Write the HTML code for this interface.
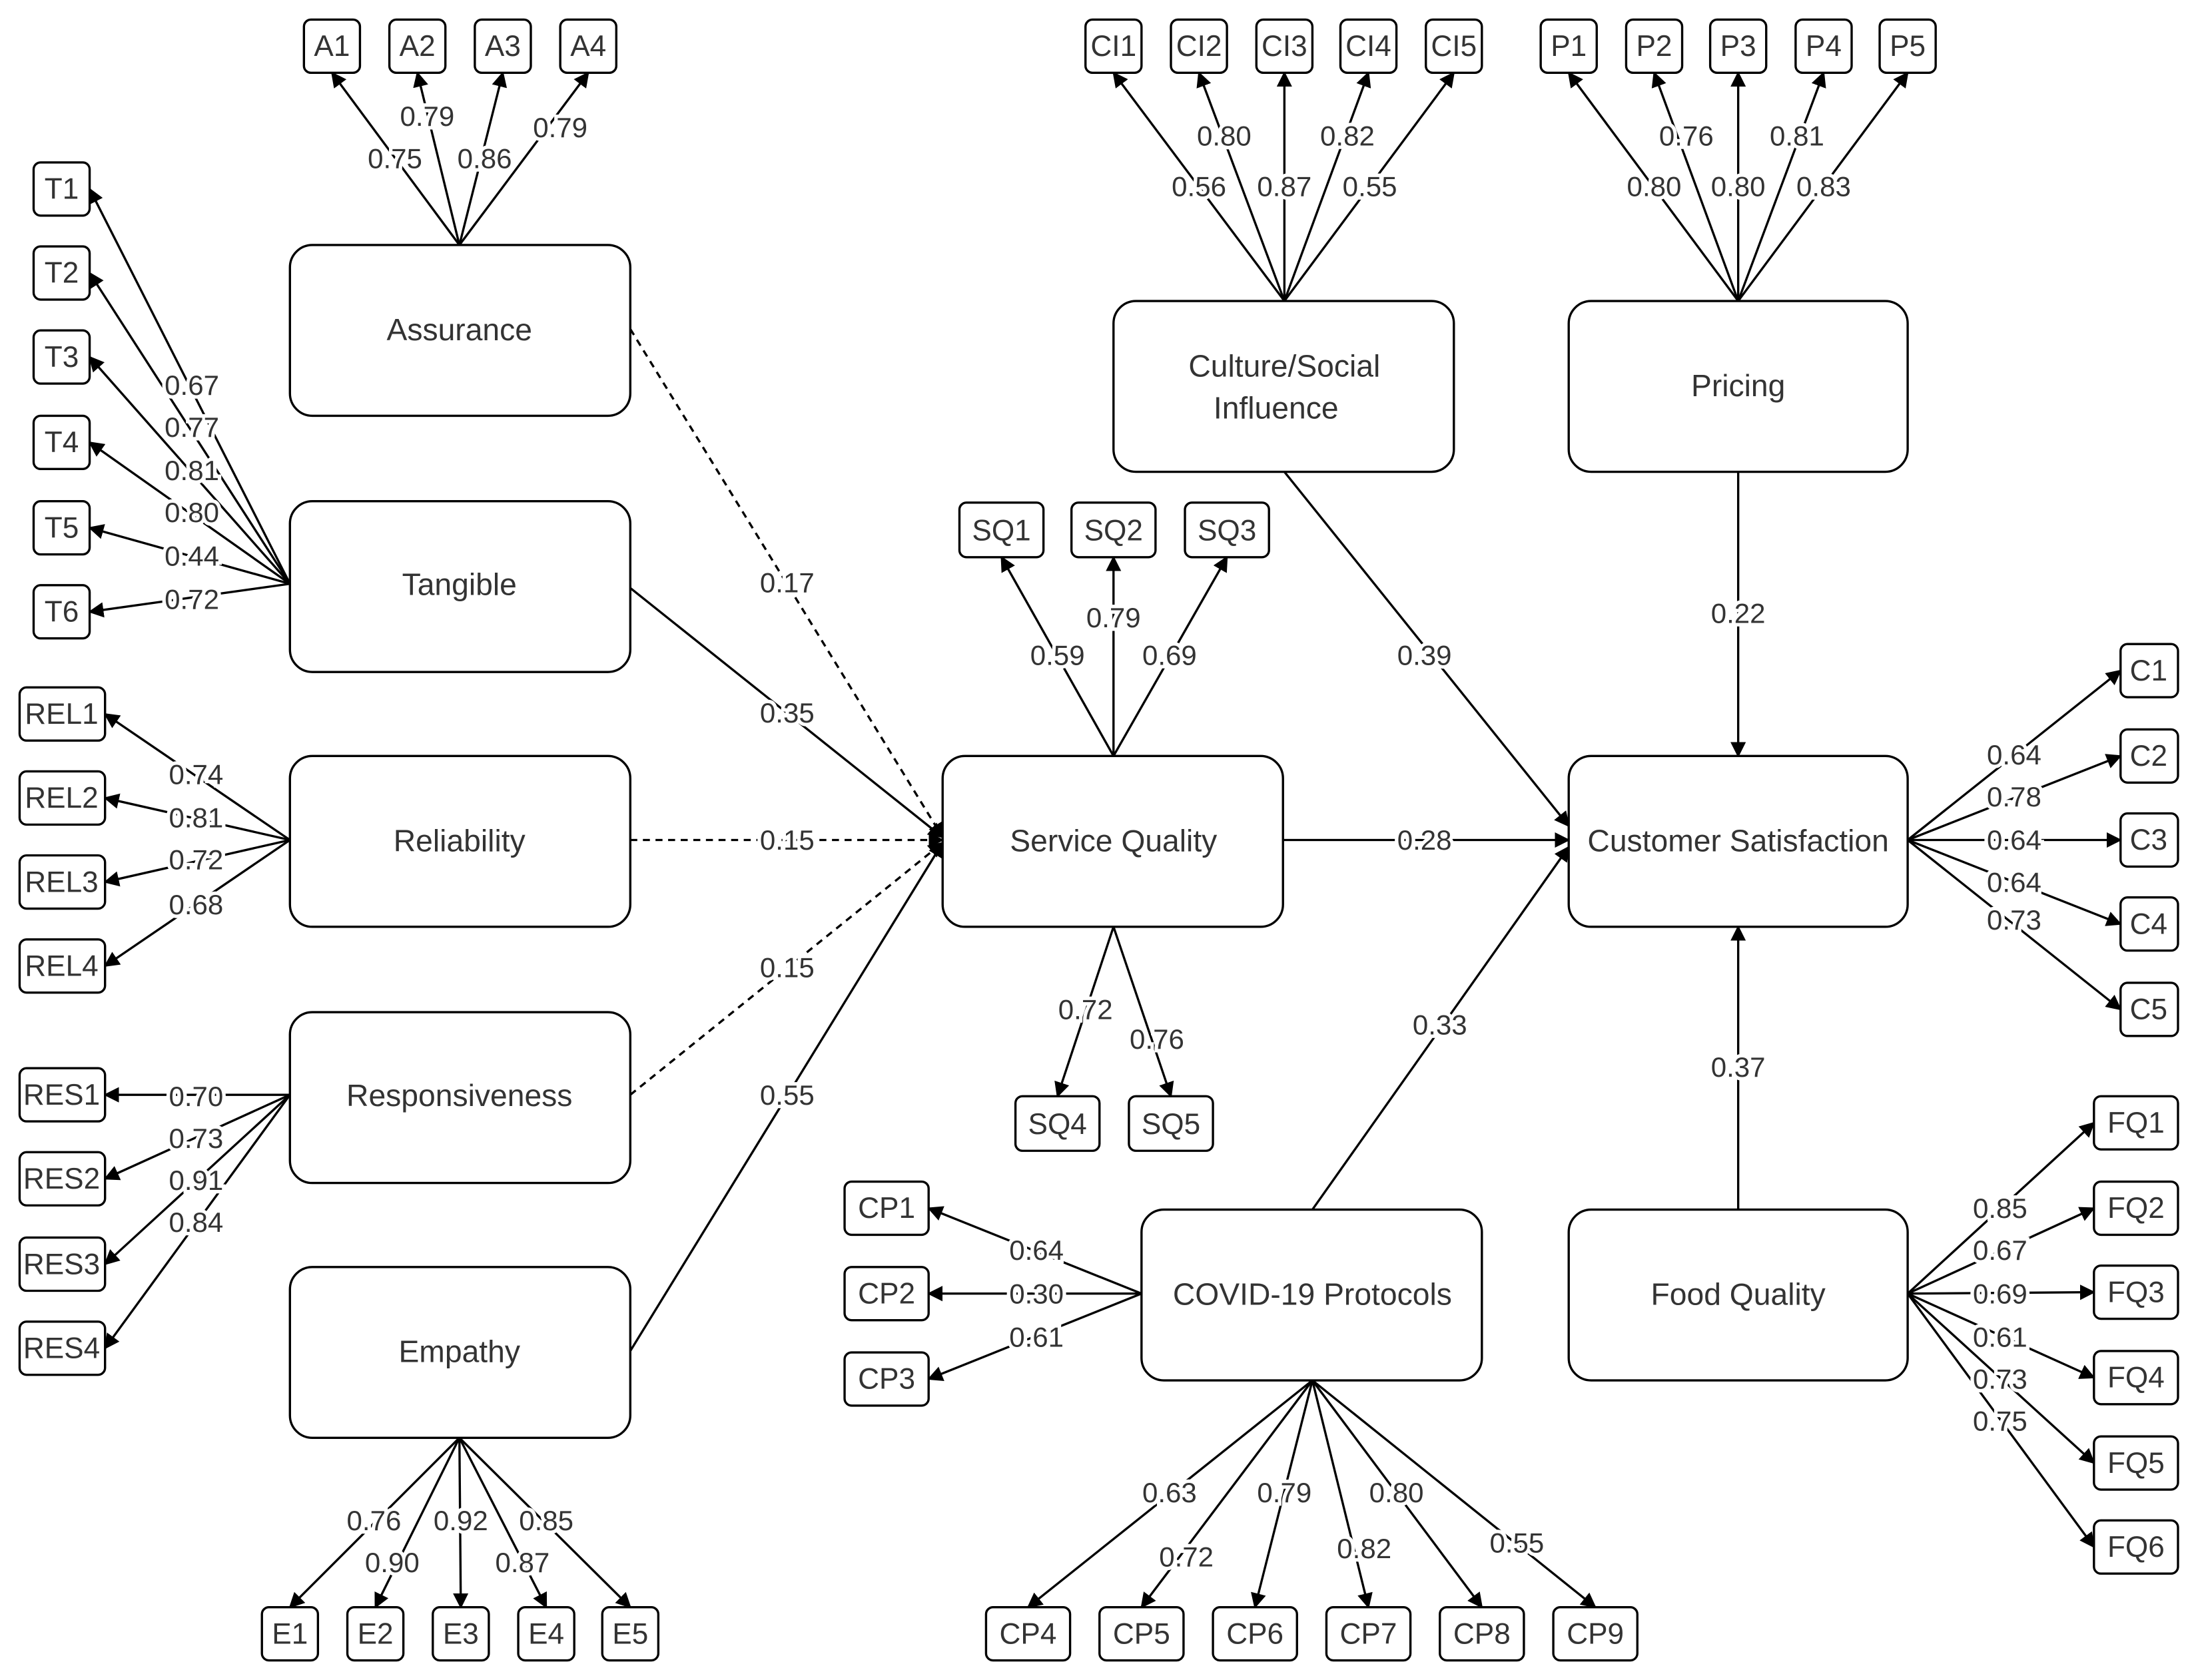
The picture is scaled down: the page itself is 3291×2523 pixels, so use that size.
<!DOCTYPE html>
<html><head><meta charset="utf-8"><style>
html,body{margin:0;padding:0;background:#fff;}
svg{display:block}
text{font-family:"Liberation Sans",sans-serif;fill:#333;}
</style></head><body>
<svg width="3291" height="2523" viewBox="0 0 1565 1200" preserveAspectRatio="none" xmlns="http://www.w3.org/2000/svg">
<defs><marker id="a" viewBox="0 0 10 10" refX="9" refY="5" markerWidth="11" markerHeight="11" markerUnits="userSpaceOnUse" orient="auto"><path d="M0,0 L10,5 L0,10 z" fill="#000"/></marker></defs>
<rect width="1565" height="1200" fill="#fff"/>
<g stroke="#000" stroke-width="1.6" fill="none" marker-end="url(#a)">
<!-- Assurance -->
<line x1="328" y1="175" x2="237" y2="52"/><line x1="328" y1="175" x2="298" y2="52"/><line x1="328" y1="175" x2="359" y2="52"/><line x1="328" y1="175" x2="420" y2="52"/>
<!-- Tangible -->
<line x1="207" y1="417" x2="64" y2="135"/><line x1="207" y1="417" x2="64" y2="195"/><line x1="207" y1="417" x2="64" y2="255"/><line x1="207" y1="417" x2="64" y2="316"/><line x1="207" y1="417" x2="64" y2="377"/><line x1="207" y1="417" x2="64" y2="437"/>
<!-- Reliability -->
<line x1="207" y1="600" x2="75" y2="510"/><line x1="207" y1="600" x2="75" y2="570"/><line x1="207" y1="600" x2="75" y2="630"/><line x1="207" y1="600" x2="75" y2="690"/>
<!-- Responsiveness -->
<line x1="207" y1="782" x2="75" y2="782"/><line x1="207" y1="782" x2="75" y2="842"/><line x1="207" y1="782" x2="75" y2="903"/><line x1="207" y1="782" x2="75" y2="963"/>
<!-- Empathy -->
<line x1="328" y1="1027" x2="207" y2="1148"/><line x1="328" y1="1027" x2="268" y2="1148"/><line x1="328" y1="1027" x2="329" y2="1148"/><line x1="328" y1="1027" x2="390" y2="1148"/><line x1="328" y1="1027" x2="450" y2="1148"/>
<!-- Culture -->
<line x1="917" y1="215" x2="795" y2="52"/><line x1="917" y1="215" x2="856" y2="52"/><line x1="917" y1="215" x2="917" y2="52"/><line x1="917" y1="215" x2="977" y2="52"/><line x1="917" y1="215" x2="1038" y2="52"/>
<!-- Pricing -->
<line x1="1241" y1="215" x2="1120" y2="52"/><line x1="1241" y1="215" x2="1181" y2="52"/><line x1="1241" y1="215" x2="1241" y2="52"/><line x1="1241" y1="215" x2="1302" y2="52"/><line x1="1241" y1="215" x2="1362" y2="52"/>
<!-- SQ -->
<line x1="795" y1="540" x2="715" y2="398"/><line x1="795" y1="540" x2="795" y2="398"/><line x1="795" y1="540" x2="876" y2="398"/>
<line x1="795" y1="662" x2="755" y2="783"/><line x1="795" y1="662" x2="836" y2="783"/>
<!-- C -->
<line x1="1362" y1="600" x2="1514" y2="479"/><line x1="1362" y1="600" x2="1514" y2="540"/><line x1="1362" y1="600" x2="1514" y2="600"/><line x1="1362" y1="600" x2="1514" y2="660"/><line x1="1362" y1="600" x2="1514" y2="721"/>
<!-- FQ -->
<line x1="1362" y1="924" x2="1495" y2="802"/><line x1="1362" y1="924" x2="1495" y2="863"/><line x1="1362" y1="924" x2="1495" y2="923"/><line x1="1362" y1="924" x2="1495" y2="984"/><line x1="1362" y1="924" x2="1495" y2="1045"/><line x1="1362" y1="924" x2="1495" y2="1105"/>
<!-- CP -->
<line x1="815" y1="924" x2="663" y2="863"/><line x1="815" y1="924" x2="663" y2="924"/><line x1="815" y1="924" x2="663" y2="985"/>
<line x1="937" y1="986" x2="734" y2="1148"/><line x1="937" y1="986" x2="815" y2="1148"/><line x1="937" y1="986" x2="896" y2="1148"/><line x1="937" y1="986" x2="977" y2="1148"/><line x1="937" y1="986" x2="1058" y2="1148"/><line x1="937" y1="986" x2="1139" y2="1148"/>
<!-- structural -->
<line x1="450" y1="235" x2="673" y2="598" stroke-dasharray="5,4"/>
<line x1="450" y1="420" x2="673" y2="598"/>
<line x1="450" y1="600" x2="673" y2="600" stroke-dasharray="5,4"/>
<line x1="450" y1="782" x2="673" y2="602" stroke-dasharray="5,4"/>
<line x1="450" y1="965" x2="673" y2="602"/>
<line x1="916" y1="600" x2="1120" y2="600"/>
<line x1="917" y1="337" x2="1120" y2="590"/>
<line x1="1241" y1="337" x2="1241" y2="540"/>
<line x1="937" y1="864" x2="1120" y2="605"/>
<line x1="1241" y1="864" x2="1241" y2="662"/>
</g>
<!-- big boxes -->
<g fill="#fff" stroke="#000" stroke-width="1.6">
<rect x="207" y="175" width="243" height="122" rx="16"/>
<rect x="207" y="358" width="243" height="122" rx="16"/>
<rect x="207" y="540" width="243" height="122" rx="16"/>
<rect x="207" y="723" width="243" height="122" rx="16"/>
<rect x="207" y="905" width="243" height="122" rx="16"/>
<rect x="673" y="540" width="243" height="122" rx="16"/>
<rect x="795" y="215" width="243" height="122" rx="16"/>
<rect x="1120" y="215" width="242" height="122" rx="16"/>
<rect x="1120" y="540" width="242" height="122" rx="16"/>
<rect x="815" y="864" width="243" height="122" rx="16"/>
<rect x="1120" y="864" width="242" height="122" rx="16"/>
</g>
<g font-size="22" text-anchor="middle">
<text x="328" y="243">Assurance</text>
<text x="328" y="425">Tangible</text>
<text x="328" y="608">Reliability</text>
<text x="328" y="790">Responsiveness</text>
<text x="328" y="973">Empathy</text>
<text x="795" y="608">Service Quality</text>
<text x="917" y="269">Culture/Social</text>
<text x="911" y="299">Influence</text>
<text x="1241" y="283">Pricing</text>
<text x="1241" y="608">Customer Satisfaction</text>
<text x="937" y="932">COVID-19 Protocols</text>
<text x="1241" y="932">Food Quality</text>
</g>
<!-- small boxes -->
<g fill="#fff" stroke="#000" stroke-width="1.6">
<rect x="217" y="14" width="40" height="38" rx="5"/><rect x="278" y="14" width="40" height="38" rx="5"/><rect x="339" y="14" width="40" height="38" rx="5"/><rect x="400" y="14" width="40" height="38" rx="5"/>
<rect x="24" y="116" width="40" height="38" rx="5"/><rect x="24" y="176" width="40" height="38" rx="5"/><rect x="24" y="236" width="40" height="38" rx="5"/><rect x="24" y="297" width="40" height="38" rx="5"/><rect x="24" y="358" width="40" height="38" rx="5"/><rect x="24" y="418" width="40" height="38" rx="5"/>
<rect x="14" y="491" width="61" height="38" rx="5"/><rect x="14" y="551" width="61" height="38" rx="5"/><rect x="14" y="611" width="61" height="38" rx="5"/><rect x="14" y="671" width="61" height="38" rx="5"/>
<rect x="14" y="763" width="61" height="38" rx="5"/><rect x="14" y="823" width="61" height="38" rx="5"/><rect x="14" y="884" width="61" height="38" rx="5"/><rect x="14" y="944" width="61" height="38" rx="5"/>
<rect x="187" y="1148" width="40" height="38" rx="5"/><rect x="248" y="1148" width="40" height="38" rx="5"/><rect x="309" y="1148" width="40" height="38" rx="5"/><rect x="370" y="1148" width="40" height="38" rx="5"/><rect x="430" y="1148" width="40" height="38" rx="5"/>
<rect x="775" y="14" width="40" height="38" rx="5"/><rect x="836" y="14" width="40" height="38" rx="5"/><rect x="897" y="14" width="40" height="38" rx="5"/><rect x="957" y="14" width="40" height="38" rx="5"/><rect x="1018" y="14" width="40" height="38" rx="5"/>
<rect x="1100" y="14" width="40" height="38" rx="5"/><rect x="1161" y="14" width="40" height="38" rx="5"/><rect x="1221" y="14" width="40" height="38" rx="5"/><rect x="1282" y="14" width="40" height="38" rx="5"/><rect x="1342" y="14" width="40" height="38" rx="5"/>
<rect x="685" y="359" width="60" height="39" rx="5"/><rect x="765" y="359" width="60" height="39" rx="5"/><rect x="846" y="359" width="60" height="39" rx="5"/>
<rect x="725" y="783" width="60" height="39" rx="5"/><rect x="806" y="783" width="60" height="39" rx="5"/>
<rect x="1514" y="460" width="41" height="38" rx="5"/><rect x="1514" y="521" width="41" height="38" rx="5"/><rect x="1514" y="581" width="41" height="38" rx="5"/><rect x="1514" y="641" width="41" height="38" rx="5"/><rect x="1514" y="702" width="41" height="38" rx="5"/>
<rect x="1495" y="783" width="60" height="38" rx="5"/><rect x="1495" y="844" width="60" height="38" rx="5"/><rect x="1495" y="904" width="60" height="38" rx="5"/><rect x="1495" y="965" width="60" height="38" rx="5"/><rect x="1495" y="1026" width="60" height="38" rx="5"/><rect x="1495" y="1086" width="60" height="38" rx="5"/>
<rect x="603" y="844" width="60" height="38" rx="5"/><rect x="603" y="905" width="60" height="38" rx="5"/><rect x="603" y="966" width="60" height="38" rx="5"/>
<rect x="704" y="1148" width="60" height="38" rx="5"/><rect x="785" y="1148" width="60" height="38" rx="5"/><rect x="866" y="1148" width="60" height="38" rx="5"/><rect x="947" y="1148" width="60" height="38" rx="5"/><rect x="1028" y="1148" width="60" height="38" rx="5"/><rect x="1109" y="1148" width="60" height="38" rx="5"/>
</g>
<g font-size="21" text-anchor="middle">
<text x="237" y="40">A1</text><text x="298" y="40">A2</text><text x="359" y="40">A3</text><text x="420" y="40">A4</text>
<text x="44" y="142">T1</text><text x="44" y="202">T2</text><text x="44" y="262">T3</text><text x="44" y="323">T4</text><text x="44" y="384">T5</text><text x="44" y="444">T6</text>
<text x="44" y="517">REL1</text><text x="44" y="577">REL2</text><text x="44" y="637">REL3</text><text x="44" y="697">REL4</text>
<text x="44" y="789">RES1</text><text x="44" y="849">RES2</text><text x="44" y="910">RES3</text><text x="44" y="970">RES4</text>
<text x="207" y="1174">E1</text><text x="268" y="1174">E2</text><text x="329" y="1174">E3</text><text x="390" y="1174">E4</text><text x="450" y="1174">E5</text>
<text x="795" y="40">CI1</text><text x="856" y="40">CI2</text><text x="917" y="40">CI3</text><text x="977" y="40">CI4</text><text x="1038" y="40">CI5</text>
<text x="1120" y="40">P1</text><text x="1181" y="40">P2</text><text x="1241" y="40">P3</text><text x="1302" y="40">P4</text><text x="1362" y="40">P5</text>
<text x="715" y="386">SQ1</text><text x="795" y="386">SQ2</text><text x="876" y="386">SQ3</text>
<text x="755" y="810">SQ4</text><text x="836" y="810">SQ5</text>
<text x="1534" y="486">C1</text><text x="1534" y="547">C2</text><text x="1534" y="607">C3</text><text x="1534" y="667">C4</text><text x="1534" y="728">C5</text>
<text x="1525" y="809">FQ1</text><text x="1525" y="870">FQ2</text><text x="1525" y="930">FQ3</text><text x="1525" y="991">FQ4</text><text x="1525" y="1052">FQ5</text><text x="1525" y="1112">FQ6</text>
<text x="633" y="870">CP1</text><text x="633" y="931">CP2</text><text x="633" y="992">CP3</text>
<text x="734" y="1174">CP4</text><text x="815" y="1174">CP5</text><text x="896" y="1174">CP6</text><text x="977" y="1174">CP7</text><text x="1058" y="1174">CP8</text><text x="1139" y="1174">CP9</text>
</g>
<!-- labels -->
<g font-size="20" text-anchor="middle" stroke="#fff" stroke-width="5" paint-order="stroke">
<text x="282" y="120">0.75</text><text x="305" y="90">0.79</text><text x="346" y="120">0.86</text><text x="400" y="98">0.79</text>
<text x="137" y="282">0.67</text><text x="137" y="312">0.77</text><text x="137" y="343">0.81</text><text x="137" y="373">0.80</text><text x="137" y="404">0.44</text><text x="137" y="435">0.72</text>
<text x="140" y="560">0.74</text><text x="140" y="591">0.81</text><text x="140" y="621">0.72</text><text x="140" y="653">0.68</text>
<text x="140" y="790">0.70</text><text x="140" y="820">0.73</text><text x="140" y="850">0.91</text><text x="140" y="880">0.84</text>
<text x="267" y="1093">0.76</text><text x="280" y="1123">0.90</text><text x="329" y="1093">0.92</text><text x="373" y="1123">0.87</text><text x="390" y="1093">0.85</text>
<text x="856" y="140">0.56</text><text x="874" y="104">0.80</text><text x="917" y="140">0.87</text><text x="962" y="104">0.82</text><text x="978" y="140">0.55</text>
<text x="1181" y="140">0.80</text><text x="1204" y="104">0.76</text><text x="1241" y="140">0.80</text><text x="1283" y="104">0.81</text><text x="1302" y="140">0.83</text>
<text x="755" y="475">0.59</text><text x="795" y="448">0.79</text><text x="835" y="475">0.69</text>
<text x="775" y="728">0.72</text><text x="826" y="749">0.76</text>
<text x="1438" y="546">0.64</text><text x="1438" y="576">0.78</text><text x="1438" y="607">0.64</text><text x="1438" y="637">0.64</text><text x="1438" y="664">0.73</text>
<text x="1428" y="870">0.85</text><text x="1428" y="900">0.67</text><text x="1428" y="931">0.69</text><text x="1428" y="962">0.61</text><text x="1428" y="992">0.73</text><text x="1428" y="1022">0.75</text>
<text x="740" y="900">0.64</text><text x="740" y="931">0.30</text><text x="740" y="962">0.61</text>
<text x="835" y="1073">0.63</text><text x="847" y="1119">0.72</text><text x="917" y="1073">0.79</text><text x="974" y="1113">0.82</text><text x="997" y="1073">0.80</text><text x="1083" y="1109">0.55</text>
<text x="562" y="423">0.17</text><text x="562" y="516">0.35</text><text x="562" y="607">0.15</text><text x="562" y="698">0.15</text><text x="562" y="789">0.55</text>
<text x="1017" y="607">0.28</text><text x="1017" y="475">0.39</text><text x="1241" y="445">0.22</text><text x="1028" y="739">0.33</text><text x="1241" y="769">0.37</text>
</g>
</svg>
</body></html>
